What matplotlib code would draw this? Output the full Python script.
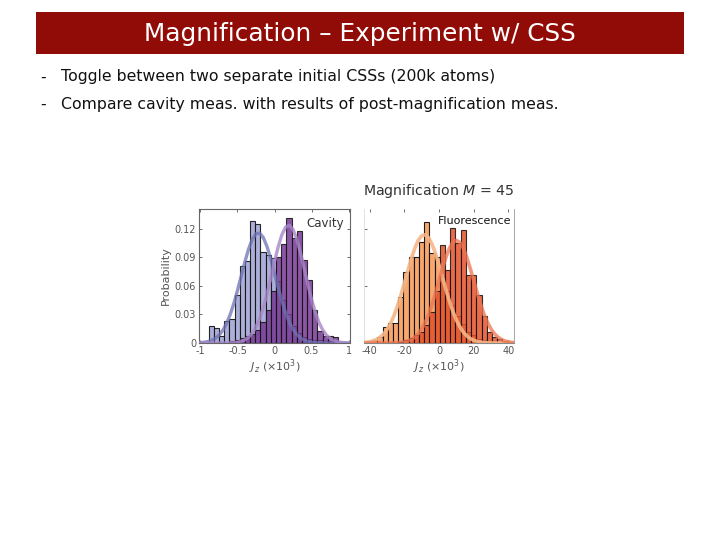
import numpy as np
import matplotlib
matplotlib.use("Agg")
import matplotlib.pyplot as plt
from matplotlib.patches import Rectangle

plt.rcParams['font.family'] = ['DejaVu Sans']
plt.rcParams['mathtext.fontset'] = 'dejavusans'
plt.rcParams['axes.unicode_minus'] = False

# ---- data ----
# cavity panel: bin centres (x10^3), bin width 0.07
cav_centers = [-0.855, -0.785, -0.715, -0.645, -0.575, -0.505, -0.435, -0.365,
               -0.295, -0.225, -0.155, -0.085, -0.015, 0.055, 0.125, 0.195,
               0.265, 0.335, 0.405, 0.475, 0.545, 0.615, 0.685, 0.755, 0.825]
cav_css1 = [0.018, 0.016, 0.007, 0.023, 0.025, 0.051, 0.081, 0.086,
            0.128, 0.125, 0.096, 0.093, 0.089, 0.065, 0.045, 0.030,
            0.018, 0.010, 0.006, 0.004, 0.003, 0.003, 0.002, 0.002, 0.001]
cav_css2 = [0.000, 0.000, 0.000, 0.000, 0.002, 0.003, 0.005, 0.007,
            0.009, 0.014, 0.022, 0.035, 0.055, 0.091, 0.104, 0.132,
            0.111, 0.118, 0.087, 0.066, 0.035, 0.013, 0.007, 0.007, 0.006]

# fitted curves of the cavity panel
cav_fit_x = [-1.0, -0.95, -0.9, -0.85, -0.8, -0.75, -0.7, -0.65, -0.6, -0.55,
             -0.5, -0.45, -0.4, -0.35, -0.3, -0.25, -0.2, -0.15, -0.1, -0.05,
             0.0, 0.05, 0.1, 0.15, 0.2, 0.25, 0.3, 0.35, 0.4, 0.45,
             0.5, 0.55, 0.6, 0.65, 0.7, 0.75, 0.8, 0.85, 0.9, 0.95, 1.0]
cav_fit1 = [0.0004, 0.0008, 0.0015, 0.0027, 0.0048, 0.0082, 0.0131, 0.0202, 0.0296, 0.0414,
            0.0553, 0.0704, 0.0854, 0.0989, 0.1092, 0.1150, 0.1156, 0.1108, 0.1012, 0.0883,
            0.0734, 0.0582, 0.0441, 0.0318, 0.0219, 0.0144, 0.0090, 0.0054, 0.0031, 0.0017,
            0.0009, 0.0004, 0.0002, 0.0001, 0.0, 0.0, 0.0, 0.0, 0.0, 0.0, 0.0]
cav_fit2 = [0.0, 0.0, 0.0, 0.0, 0.0, 0.0, 0.0, 0.0001, 0.0002, 0.0004,
            0.0009, 0.0018, 0.0034, 0.0061, 0.0104, 0.0168, 0.0258, 0.0376, 0.0520, 0.0684,
            0.0854, 0.1013, 0.1140, 0.1220, 0.1239, 0.1195, 0.1094, 0.0952, 0.0786, 0.0617,
            0.0460, 0.0325, 0.0218, 0.0139, 0.0084, 0.0049, 0.0027, 0.0014, 0.0007, 0.0003, 0.0001]

# fluorescence panel: bin centres (x10^3), bin width 3
flu_centers = [-40, -37, -34, -31, -28, -25, -22, -19, -16, -13, -10, -7, -4, -1,
               2, 5, 8, 11, 14, 17, 20, 23, 26, 29, 32, 35, 38, 41]
flu_css1 = [0.001, 0.003, 0.006, 0.017, 0.021, 0.021, 0.048, 0.075, 0.090, 0.090,
            0.106, 0.127, 0.095, 0.090, 0.070, 0.055, 0.040, 0.028, 0.020, 0.012,
            0.008, 0.004, 0.003, 0.002, 0.001, 0.0, 0.0, 0.0]
flu_css2 = [0.0, 0.0, 0.0, 0.0, 0.0, 0.0, 0.001, 0.003, 0.005, 0.008,
            0.012, 0.019, 0.033, 0.055, 0.103, 0.077, 0.121, 0.105, 0.119, 0.072,
            0.072, 0.050, 0.028, 0.012, 0.006, 0.004, 0.002, 0.0]

flu_fit_x = [-44, -42, -40, -38, -36, -34, -32, -30, -28, -26, -24, -22, -20, -18, -16,
             -14, -12, -10, -8, -6, -4, -2, 0, 2, 4, 6, 8, 10, 12, 14,
             16, 18, 20, 22, 24, 26, 28, 30, 32, 34, 36, 38, 40, 42, 44]
flu_fit1 = [0.0004, 0.0007, 0.0013, 0.0022, 0.0037, 0.0060, 0.0093, 0.0140, 0.0203, 0.0284,
            0.0384, 0.0499, 0.0626, 0.0757, 0.0883, 0.0994, 0.1078, 0.1128, 0.1139, 0.1108,
            0.1040, 0.0941, 0.0821, 0.0691, 0.0561, 0.0439, 0.0332, 0.0241, 0.0170, 0.0115,
            0.0075, 0.0047, 0.0029, 0.0017, 0.0009, 0.0005, 0.0002, 0.0001, 0.0, 0.0,
            0.0, 0.0, 0.0, 0.0, 0.0]
flu_fit2 = [0.0, 0.0, 0.0, 0.0, 0.0, 0.0, 0.0, 0.0, 0.0001, 0.0002,
            0.0003, 0.0006, 0.0012, 0.0021, 0.0037, 0.0061, 0.0096, 0.0146, 0.0214, 0.0300,
            0.0405, 0.0526, 0.0655, 0.0784, 0.0902, 0.0997, 0.1059, 0.1080, 0.1059, 0.0997,
            0.0902, 0.0784, 0.0655, 0.0526, 0.0405, 0.0300, 0.0214, 0.0146, 0.0096, 0.0061,
            0.0037, 0.0021, 0.0012, 0.0006, 0.0003]

title = "Magnification \u2013 Experiment w/ CSS"
bullets = ["Toggle between two separate initial CSSs (200k atoms)",
           "Compare cavity meas. with results of post-magnification meas."]

W, H = 720, 540
fig = plt.figure(figsize=(7.2, 5.4), dpi=100)

def fx(x):
    return x / W

def fy(y):
    return 1 - y / H

# slide title bar
fig.patches.append(Rectangle((fx(36), fy(54)), 648 / W, 42 / H, transform=fig.transFigure,
                             facecolor="#920C07", edgecolor="none", zorder=0))
fig.text(fx(360), fy(34), title, color="white", fontsize=17.8, ha="center", va="center")

for i, b in enumerate(bullets):
    yy = fy(77 + 27 * i)
    fig.text(fx(40), yy, "-", fontsize=11.3, ha="left", va="center", color="#111111")
    fig.text(fx(61), yy, b, fontsize=11.3, ha="left", va="center", color="#111111")

tick_col = "#555555"

# ---- cavity panel ----
ax1 = fig.add_axes([fx(199), fy(343), 151 / W, 134 / H])
ax1.bar(cav_centers, cav_css1, width=0.07, color="#A3A8D4", alpha=0.9,
        edgecolor="#111111", linewidth=0.8, zorder=2)
ax1.bar(cav_centers, cav_css2, width=0.07, color="#773A94", alpha=0.85,
        edgecolor="#111111", linewidth=0.8, zorder=3)
ax1.plot(cav_fit_x, cav_fit1, color="#6D72B4", alpha=0.75, linewidth=2.4, zorder=4)
ax1.plot(cav_fit_x, cav_fit2, color="#A886C8", alpha=0.8, linewidth=2.4, zorder=4)
ax1.set_xlim(-1.02, 1.02)
ax1.set_ylim(0, 0.141)
ax1.set_xticks([-1, -0.5, 0, 0.5, 1])
ax1.set_xticklabels(["-1", "-0.5", "0", "0.5", "1"])
ax1.set_yticks([0, 0.03, 0.06, 0.09, 0.12])
ax1.set_yticklabels(["0", "0.03", "0.06", "0.09", "0.12"])
ax1.tick_params(direction="in", length=2.5, width=0.6, colors=tick_col, labelsize=7,
                top=True, right=True, pad=2)
for s in ax1.spines.values():
    s.set_color("#666666")
    s.set_linewidth(0.8)
ax1.set_ylabel("Probability", fontsize=8, color=tick_col, labelpad=3)
ax1.set_xlabel(r"$J_z$ ($\times10^3$)", fontsize=8, color=tick_col, labelpad=1)
ax1.text(0.96, 0.94, "Cavity", transform=ax1.transAxes, ha="right", va="top",
         fontsize=8.5, color="#333333")

# ---- fluorescence panel ----
ax2 = fig.add_axes([fx(364), fy(343), 150 / W, 134 / H])
ax2.bar(flu_centers, flu_css1, width=3, color="#F7A266", alpha=0.95,
        edgecolor="#111111", linewidth=0.8, zorder=2)
ax2.bar(flu_centers, flu_css2, width=3, color="#E5522A", alpha=0.85,
        edgecolor="#111111", linewidth=0.8, zorder=3)
ax2.plot(flu_fit_x, flu_fit1, color="#F6B687", alpha=0.9, linewidth=2.6, zorder=4)
ax2.plot(flu_fit_x, flu_fit2, color="#EE7450", alpha=0.75, linewidth=2.6, zorder=4)
ax2.set_xlim(-43.2, 43.2)
ax2.set_ylim(0, 0.141)
ax2.set_xticks([-40, -20, 0, 20, 40])
ax2.set_yticks([0.06, 0.12])
ax2.set_yticklabels([])
ax2.tick_params(direction="in", length=2.5, width=0.6, colors=tick_col, labelsize=7,
                top=True, pad=2)
ax2.spines["top"].set_visible(False)
ax2.spines["left"].set_color("#DDDDDD")
ax2.spines["left"].set_linewidth(0.6)
ax2.spines["right"].set_color("#999999")
ax2.spines["right"].set_linewidth(0.6)
ax2.spines["bottom"].set_color("#888888")
ax2.set_xlabel(r"$J_z$ ($\times10^3$)", fontsize=8, color=tick_col, labelpad=1)
ax2.text(0.98, 0.95, "Fluorescence", transform=ax2.transAxes, ha="right", va="top",
         fontsize=8, color="#111111")
fig.text(fx(438.5), fy(191), r"Magnification $M$ = 45", fontsize=10.2, ha="center",
         va="center", color="#333333")

fig.savefig("out.png", dpi=100)
